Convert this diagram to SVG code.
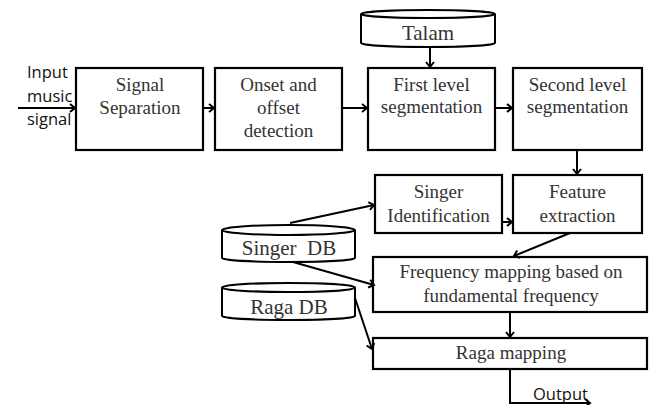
<svg xmlns="http://www.w3.org/2000/svg" width="649" height="405" viewBox="0 0 649 405">
<style>
.box{fill:#fff;stroke:#000;stroke-width:2.2}
.db{fill:#fff;stroke:#000;stroke-width:2}
.t{font-family:"Liberation Serif","Times New Roman",serif;font-size:19px;fill:#333;text-anchor:middle}
.dbt{font-family:"Liberation Serif","Times New Roman",serif;font-size:21px;fill:#333;text-anchor:middle}
.s{font-family:"Open Sans","Liberation Sans",sans-serif;font-size:16.5px;fill:#111}
.c{fill:none;stroke:#000;stroke-width:2;marker-end:url(#ah)}
</style>
<defs>
<marker id="ah" markerWidth="10" markerHeight="10" refX="7" refY="5" orient="auto" markerUnits="userSpaceOnUse">
<path d="M2,1 L7,5 L2,9" fill="none" stroke="#000" stroke-width="2"/>
</marker>
</defs>
<rect width="649" height="405" fill="#fff"/>

<g id="input-label">
<text class="s" x="27" y="78">Input</text>
<text class="s" x="27" y="102">music</text>
<text class="s" x="27" y="125">signal</text>
</g>

<g id="signal-separation">
<rect class="box" x="76" y="68" width="127" height="82"/>
<text class="t" x="140" y="91">Signal</text>
<text class="t" x="140" y="114">Separation</text>
</g>

<g id="onset-offset">
<rect class="box" x="215" y="68" width="127" height="82"/>
<text class="t" x="278.5" y="91">Onset and</text>
<text class="t" x="278.5" y="114">offset</text>
<text class="t" x="278.5" y="137">detection</text>
</g>

<g id="first-level">
<rect class="box" x="368" y="68" width="127" height="82"/>
<text class="t" x="431.5" y="91">First level</text>
<text class="t" x="431.5" y="113">segmentation</text>
</g>

<g id="second-level">
<rect class="box" x="513" y="68" width="129" height="82"/>
<text class="t" x="577.5" y="91">Second level</text>
<text class="t" x="577.5" y="113">segmentation</text>
</g>

<g id="talam">
<path class="db" d="M361,14 L361,43 A67,4 0 0 0 495,43 L495,14"/>
<ellipse class="db" cx="428" cy="14" rx="67" ry="4"/>
<text class="dbt" x="428" y="40">Talam</text>
</g>

<g id="singer-identification">
<rect class="box" x="375" y="175" width="127" height="58"/>
<text class="t" x="438.5" y="198">Singer</text>
<text class="t" x="438.5" y="222">Identification</text>
</g>

<g id="feature-extraction">
<rect class="box" x="513" y="175" width="129" height="58"/>
<text class="t" x="577.5" y="198">Feature</text>
<text class="t" x="577.5" y="222">extraction</text>
</g>

<g id="singer-db">
<path class="db" d="M222,230 L222,258 A66.5,4 0 0 0 355,258 L355,230"/>
<ellipse class="db" cx="288.5" cy="230" rx="66.5" ry="5"/>
<text class="dbt" x="289" y="255" xml:space="preserve">Singer  DB</text>
</g>

<g id="raga-db">
<path class="db" d="M222,287.5 L222,316 A66.5,4 0 0 0 355,316 L355,287.5"/>
<ellipse class="db" cx="288.5" cy="287.5" rx="66.5" ry="4.5"/>
<text class="dbt" x="289" y="314">Raga DB</text>
</g>

<g id="frequency-mapping">
<rect class="box" x="373" y="257" width="274" height="55"/>
<text class="t" x="511" y="278">Frequency mapping based on</text>
<text class="t" x="511" y="302">fundamental frequency</text>
</g>

<g id="raga-mapping">
<rect class="box" x="373" y="338" width="274" height="31"/>
<text class="t" x="511" y="359">Raga mapping</text>
</g>

<g id="output-label">
<text class="s" x="533" y="400">Output</text>
</g>

<g id="connectors">
<path class="c" d="M18,108 L75,108"/>
<path class="c" d="M203,108 L214,108"/>
<path class="c" d="M342,108 L367,108"/>
<path class="c" d="M495,108 L512,108"/>
<path class="c" d="M430,47 L430,67"/>
<path class="c" d="M577,150 L577,174"/>
<path class="c" d="M502,222 L512,222"/>
<path class="c" d="M290,223 L374,205"/>
<path class="c" d="M293,262 L374,285"/>
<path class="c" d="M570,233 L514,256"/>
<path class="c" d="M510,312 L510,337"/>
<path class="c" d="M355,298 L372,349"/>
<path class="c" d="M510,369 L510,403 L590,403"/>
</g>
</svg>
